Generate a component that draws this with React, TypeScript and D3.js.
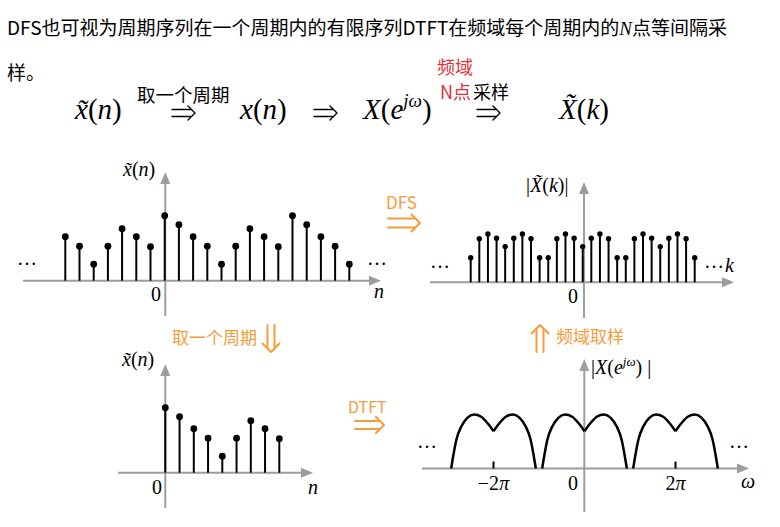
import React from "react";
import * as d3 from "d3";

// ---------- data ----------
const xOnePeriod = [6.5, 5.6, 4.4, 3.45, 1.65, 3.45, 5.2, 4.4, 3.4]; // x~(n), n = 0..8
const nTop = [-7, -6, -5, -4, -3, -2, -1, 0, 1, 2, 3, 4, 5, 6, 7, 8, 9, 10, 11, 12, 13];
const nBottom = [0, 1, 2, 3, 4, 5, 6, 7, 8];
const XkOnePeriod = [3.57, 4.4, 4.83, 4.35, 2.45, 2.45, 4.35, 4.83, 4.4]; // |X~(k)|, k = 0..8
const kTop = [-13, -12, -11, -10, -9, -8, -7, -6, -5, -4, -3, -2, -1, 0, 1, 2, 3, 4, 5, 6, 7, 8, 9, 10, 11, 12, 13];
// half lobe of |X(e^jw)| (w in units of pi, relative to lobe centre)
const lobeW = [-0.93, -0.885, -0.815, -0.705, -0.575, -0.43, -0.27, -0.125, 0];
const lobeMag = [0, 1.25, 2.9, 4.23, 5.07, 5.4, 5.17, 4.5, 3.73];
const lobeCenters = [-2, 0, 2];
const omegaTicks = [-2, 2];
const omegaTickPrefix = ["\u22122", "2"];

const PERIOD = 9;
const mod = (a: number, m: number) => ((a % m) + m) % m;

const GRAY = "#9d9d9d";
const ORANGE = "#f59c3c";
const RED = "#e3303a";
const SERIF = "'Liberation Serif', 'DejaVu Serif', serif";
const CJK = "'Noto Sans CJK SC', 'Noto Sans', sans-serif";

// ---------- scales ----------
const xTL = d3.scaleLinear().domain([-7, 13]).range([65.3, 349.3]);
const yTL = d3.scaleLinear().domain([0, 1]).range([280.7, 270.7]);
const xBL = d3.scaleLinear().domain([0, 8]).range([165.3, 279.3]);
const yBL = d3.scaleLinear().domain([0, 1]).range([472.7, 462.7]);
const xTR = d3.scaleLinear().domain([-13, 13]).range([470.7, 694.7]);
const yTR = d3.scaleLinear().domain([0, 1]).range([282.3, 272.3]);
const wBR = d3.scaleLinear().domain([-2, 2]).range([493.5, 675.5]);
const yBR = d3.scaleLinear().domain([0, 1]).range([468.5, 458.5]);

function HAxis({ x1, x2, y }: { x1: number; x2: number; y: number }) {
  return (
    <g>
      <line x1={x1} x2={x2 - 8} y1={y} y2={y} stroke={GRAY} strokeWidth={2} />
      <path d={`M${x2},${y} L${x2 - 12},${y - 5} L${x2 - 12},${y + 5} Z`} fill={GRAY} />
    </g>
  );
}
function VAxis({ x, y1, y2 }: { x: number; y1: number; y2: number }) {
  return (
    <g>
      <line x1={x} x2={x} y1={y1} y2={y2 + 8} stroke={GRAY} strokeWidth={2} />
      <path d={`M${x},${y2} L${x - 5},${y2 + 12} L${x + 5},${y2 + 12} Z`} fill={GRAY} />
    </g>
  );
}

function DoubleArrow({ x1, x2, y1, y2, color, sw, gap, head }: any) {
  const horizontal = y1 === y2;
  if (horizontal) {
    const dir = x2 > x1 ? 1 : -1;
    const cy = y1;
    return (
      <g stroke={color} strokeWidth={sw} fill="none" strokeLinecap="round" strokeLinejoin="round">
        <line x1={x1} x2={x2 - dir * head * 0.55} y1={cy - gap} y2={cy - gap} />
        <line x1={x1} x2={x2 - dir * head * 0.55} y1={cy + gap} y2={cy + gap} />
        <path d={`M${x2 - dir * head},${cy - head} L${x2},${cy} L${x2 - dir * head},${cy + head}`} />
      </g>
    );
  }
  const dir = y2 > y1 ? 1 : -1;
  const cx = x1;
  return (
    <g stroke={color} strokeWidth={sw} fill="none" strokeLinecap="round" strokeLinejoin="round">
      <line y1={y1} y2={y2 - dir * head * 0.55} x1={cx - gap} x2={cx - gap} />
      <line y1={y1} y2={y2 - dir * head * 0.55} x1={cx + gap} x2={cx + gap} />
      <path d={`M${cx - head},${y2 - dir * head} L${cx},${y2} L${cx + head},${y2 - dir * head}`} />
    </g>
  );
}

function Stems({ ns, xs, ys, values, r }: any) {
  return (
    <g>
      {ns.map((n: number) => {
        const v = values[mod(n, PERIOD)];
        return (
          <g key={n}>
            <line x1={xs(n)} x2={xs(n)} y1={ys(0)} y2={ys(v)} stroke="#000" strokeWidth={2} />
            <circle cx={xs(n)} cy={ys(v)} r={r} fill="#000" />
          </g>
        );
      })}
    </g>
  );
}

export default function App() {
  const lobePath = (c: number, side: number) => {
    const pts: [number, number][] = lobeW.map((w, i) => [wBR(c + side * w), yBR(lobeMag[i])]);
    if (side > 0) pts.reverse();
    const gen = d3
      .line<[number, number]>()
      .x((d) => d[0])
      .y((d) => d[1])
      .curve(d3.curveMonotoneX);
    return gen(pts) as string;
  };

  return (
    <svg
      width={780}
      height={527}
      style={{ position: "absolute", left: 0, top: 0, background: "#fff" }}
    >
      <rect x={0} y={0} width={780} height={527} fill="#fff" />

      {/* ---- heading text ---- */}
      <text x={7} y={35} fontFamily={CJK} fontSize={19} fill="#000">
        <tspan>DFS也可视为周期序列在一个周期内的有限序列DTFT在频域每个周期内的</tspan>
        <tspan fontFamily={SERIF} fontStyle="italic">N</tspan>
        <tspan>点等间隔采</tspan>
      </text>
      <text x={7} y={80} fontFamily={CJK} fontSize={19} fill="#000">样。</text>

      {/* ---- formula row ---- */}
      <g fontFamily={SERIF} fontSize={29} fill="#000">
        <text x={75} y={119}>
          <tspan fontStyle="italic">x̃</tspan>(<tspan fontStyle="italic">n</tspan>)
        </text>
        <text x={240} y={119}>
          <tspan fontStyle="italic">x</tspan>(<tspan fontStyle="italic">n</tspan>)
        </text>
        <text x={363} y={119}>
          <tspan fontStyle="italic">X</tspan>(<tspan fontStyle="italic">e</tspan>
          <tspan fontStyle="italic" fontSize={19} dy={-12}>jω</tspan>
          <tspan dy={12}>)</tspan>
        </text>
        <text x={559} y={119}>
          <tspan fontStyle="italic">X̃</tspan>(<tspan fontStyle="italic">k</tspan>)
        </text>
      </g>
      <text x={137} y={102} fontFamily={CJK} fontSize={18.5} fill="#000">取一个周期</text>
      <text x={437} y={73.5} fontFamily={CJK} fontSize={18} fill={RED}>频域</text>
      <text x={440} y={98.5} fontFamily={CJK} fontSize={18} fill={RED}>N点</text>
      <text x={473} y={98.5} fontFamily={CJK} fontSize={18} fill="#000">采样</text>
      <DoubleArrow x1={172} x2={195} y1={113} y2={113} color="#000" sw={1.4} gap={3.5} head={7} />
      <DoubleArrow x1={314} x2={337} y1={113} y2={113} color="#000" sw={1.4} gap={3.5} head={7} />
      <DoubleArrow x1={477} x2={500} y1={113} y2={113} color="#000" sw={1.4} gap={3.5} head={7} />

      {/* ---- top-left panel: periodic x~(n) ---- */}
      <HAxis x1={23} x2={381} y={280.7} />
      <VAxis x={165.3} y1={316} y2={172} />
      <Stems ns={nTop} xs={xTL} ys={yTL} values={xOnePeriod} r={3.4} />
      <g fontFamily={SERIF} fontSize={20} fill="#000">
        <text x={17} y={265}>…</text>
        <text x={367} y={265}>…</text>
        <text x={156} y={301} textAnchor="middle">0</text>
        <text x={379} y={298} textAnchor="middle" fontStyle="italic">n</text>
        <text x={123} y={176}>
          <tspan fontStyle="italic">x̃</tspan>(<tspan fontStyle="italic">n</tspan>)
        </text>
      </g>

      {/* ---- DFS arrow ---- */}
      <text x={386} y={209} fontFamily={CJK} fontSize={17} fill={ORANGE}>DFS</text>
      <DoubleArrow x1={388} x2={420} y1={223} y2={223} color={ORANGE} sw={2} gap={4.5} head={8.5} />

      {/* ---- top-right panel: |X~(k)| ---- */}
      <HAxis x1={430} x2={734} y={282.3} />
      <VAxis x={584} y1={318} y2={182} />
      <Stems ns={kTop} xs={xTR} ys={yTR} values={XkOnePeriod} r={2.7} />
      <g fontFamily={SERIF} fontSize={20} fill="#000">
        <text x={430} y={268}>…</text>
        <text x={704} y={268}>…</text>
        <text x={725} y={272} fontStyle="italic">k</text>
        <text x={573} y={303} textAnchor="middle">0</text>
        <text x={526} y={192}>
          |<tspan fontStyle="italic">X̃</tspan>(<tspan fontStyle="italic">k</tspan>)|
        </text>
      </g>

      {/* ---- down arrow: take one period ---- */}
      <text x={172} y={344} fontFamily={CJK} fontSize={17} fill={ORANGE}>取一个周期</text>
      <DoubleArrow x1={271} x2={271} y1={325} y2={352} color={ORANGE} sw={2} gap={3.5} head={8.5} />

      {/* ---- bottom-left panel: x(n) ---- */}
      <HAxis x1={118} x2={313} y={472.7} />
      <VAxis x={165.3} y1={508} y2={364} />
      <Stems ns={nBottom} xs={xBL} ys={yBL} values={xOnePeriod} r={3.4} />
      <g fontFamily={SERIF} fontSize={20} fill="#000">
        <text x={157} y={494} textAnchor="middle">0</text>
        <text x={313} y={494} textAnchor="middle" fontStyle="italic">n</text>
        <text x={122} y={366}>
          <tspan fontStyle="italic">x̃</tspan>(<tspan fontStyle="italic">n</tspan>)
        </text>
      </g>

      {/* ---- DTFT arrow ---- */}
      <text x={348} y={413} fontFamily={CJK} fontSize={16} fill={ORANGE}>DTFT</text>
      <DoubleArrow x1={355} x2={384} y1={425} y2={425} color={ORANGE} sw={2} gap={4} head={8} />

      {/* ---- up arrow: frequency sampling ---- */}
      <DoubleArrow x1={540} x2={540} y1={352} y2={325} color={ORANGE} sw={2} gap={3.5} head={8.5} />
      <text x={556} y={343} fontFamily={CJK} fontSize={17} fill={ORANGE}>频域取样</text>

      {/* ---- bottom-right panel: |X(e^jw)| ---- */}
      <HAxis x1={422} x2={749} y={468.5} />
      <VAxis x={584.3} y1={512} y2={359} />
      {omegaTicks.map((t) => (
        <line key={t} x1={wBR(t)} x2={wBR(t)} y1={yBR(0)} y2={yBR(0) - 7} stroke="#000" strokeWidth={2} />
      ))}
      {lobeCenters.map((c) => (
        <g key={c} fill="none" stroke="#000" strokeWidth={2.5}>
          <path d={lobePath(c, -1)} />
          <path d={lobePath(c, 1)} />
        </g>
      ))}
      <g fontFamily={SERIF} fontSize={20} fill="#000">
        <text x={417} y={448}>…</text>
        <text x={729} y={448}>…</text>
        {omegaTicks.map((t, i) => (
          <text key={t} x={wBR(t)} y={490} textAnchor="middle">
            {omegaTickPrefix[i]}
            <tspan fontStyle="italic">π</tspan>
          </text>
        ))}
        <text x={573} y={490} textAnchor="middle">0</text>
        <text x={748} y={488} textAnchor="middle" fontStyle="italic">ω</text>
        <text x={591} y={374}>
          |<tspan fontStyle="italic">X</tspan>(<tspan fontStyle="italic">e</tspan>
          <tspan fontStyle="italic" fontSize={13} dy={-8}>jω</tspan>
          <tspan dy={8}>)</tspan> |
        </text>
      </g>
    </svg>
  );
}
